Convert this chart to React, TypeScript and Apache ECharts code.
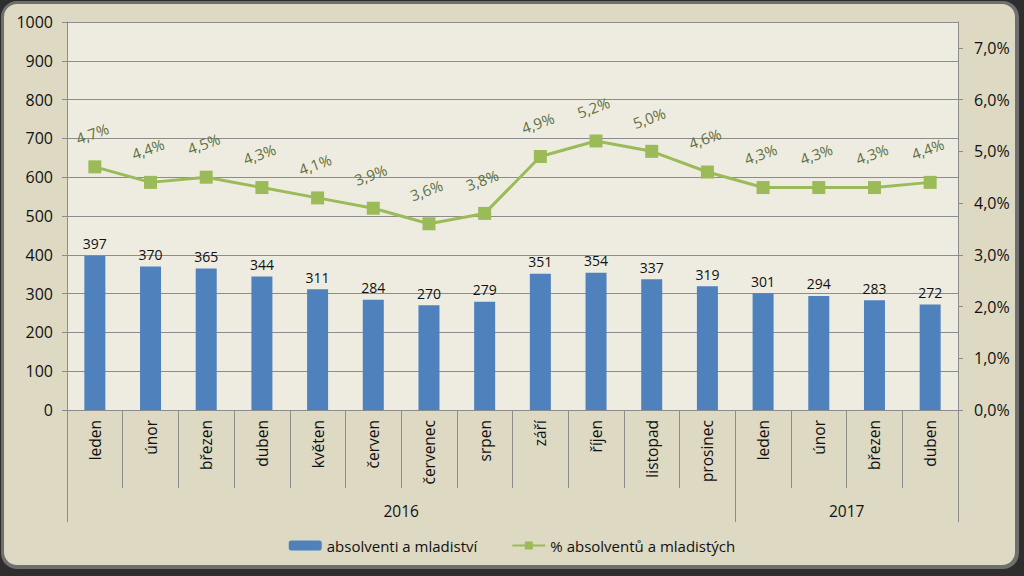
import React, { useEffect, useRef } from "react";
import * as echarts from "echarts";

const months = [
  "leden", "únor", "březen", "duben", "květen", "červen", "červenec", "srpen",
  "září", "říjen", "listopad", "prosinec", "leden", "únor", "březen", "duben",
];
const years = ["2016", "2017"];
const yearSpans = [12, 4];
const absolventi = [397, 370, 365, 344, 311, 284, 270, 279, 351, 354, 337, 319, 301, 294, 283, 272];
const podil = [4.7, 4.4, 4.5, 4.3, 4.1, 3.9, 3.6, 3.8, 4.9, 5.2, 5.0, 4.6, 4.3, 4.3, 4.3, 4.4];
const rightTicks = [0, 1, 2, 3, 4, 5, 6, 7];
const seriesNames = ["absolventi a mladiství", "% absolventů a mladistých"];

const FONT = "Open Sans";
const TXT = "#111111";
const fmtPct = (v: number) => v.toFixed(1).replace(".", ",") + "%";

export default function App() {
  const ref = useRef<HTMLDivElement>(null);
  useEffect(() => {
    if (!ref.current) return;
    const chart = echarts.init(ref.current, undefined, { renderer: "svg" });
    const bounds: number[] = [0];
    yearSpans.forEach((s, i) => bounds.push(bounds[i] + s));
    const centers = yearSpans.map((s, i) => bounds[i] + s / 2);
    chart.setOption({
      animation: false,
      textStyle: { fontFamily: FONT },
      grid: {
        left: 67,
        right: 66,
        top: 22,
        bottom: 166,
        show: true,
        backgroundColor: "#EEECE1",
        borderWidth: 0,
      },
      legend: {
        bottom: 18,
        left: "center",
        itemGap: 34,
        itemWidth: 33,
        itemHeight: 10,
        textStyle: { fontFamily: FONT, fontSize: 15, color: TXT },
        data: seriesNames,
      },
      xAxis: [
        {
          type: "category",
          data: months,
          position: "bottom",
          axisLine: { lineStyle: { color: "#8C8C8C", width: 1 } },
          axisTick: { show: true, interval: 0, length: 78, lineStyle: { color: "#8C8C8C" } },
          axisLabel: {
            interval: 0,
            rotate: 90,
            margin: 10,
            fontFamily: FONT,
            fontSize: 15.5,
            color: TXT,
          },
        },
        {
          type: "value",
          min: 0,
          max: bounds[bounds.length - 1],
          position: "bottom",
          axisLine: { show: false },
          splitLine: { show: false },
          axisTick: {
            show: true,
            customValues: bounds,
            length: 112,
            lineStyle: { color: "#8C8C8C" },
          },
          axisLabel: {
            customValues: centers,
            margin: 93,
            fontFamily: FONT,
            fontSize: 15.5,
            color: TXT,
            formatter: (v: number) => {
              const i = centers.findIndex((c) => Math.abs(c - v) < 1e-6);
              return i >= 0 ? years[i] : "";
            },
          },
        },
      ],
      yAxis: [
        {
          type: "value",
          min: 0,
          max: 1000,
          interval: 100,
          axisLine: { show: true, lineStyle: { color: "#8C8C8C" } },
          axisTick: { show: true, length: 5, lineStyle: { color: "#8C8C8C" } },
          splitLine: { show: true, lineStyle: { color: "#8C8C8C", width: 1 } },
          axisLabel: {
            margin: 14,
            fontFamily: FONT,
            fontSize: 16,
            color: TXT,
            formatter: (v: number) => String(v),
          },
        },
        {
          type: "value",
          min: 0,
          max: 7.5,
          interval: 1,
          position: "right",
          axisLine: { show: true, lineStyle: { color: "#8C8C8C" } },
          axisTick: { show: true, length: 5, customValues: rightTicks, lineStyle: { color: "#8C8C8C" } },
          splitLine: { show: false },
          axisLabel: {
            margin: 16,
            customValues: rightTicks,
            fontFamily: FONT,
            fontSize: 16,
            color: TXT,
            formatter: (v: number) => fmtPct(v),
          },
        },
      ],
      series: [
        {
          name: seriesNames[0],
          type: "bar",
          data: absolventi,
          xAxisIndex: 0,
          yAxisIndex: 0,
          barWidth: 21,
          itemStyle: { color: "#4F81BD" },
          label: {
            show: true,
            position: "top",
            distance: 5,
            fontFamily: FONT,
            fontSize: 14,
            color: TXT,
          },
        },
        {
          name: seriesNames[1],
          type: "line",
          data: podil,
          xAxisIndex: 0,
          yAxisIndex: 1,
          symbol: "rect",
          symbolSize: 13,
          lineStyle: { color: "#9BBB59", width: 3 },
          itemStyle: { color: "#9BBB59" },
          label: {
            show: true,
            position: "top",
            distance: 20,
            rotate: 20,
            fontFamily: FONT,
            fontSize: 15,
            color: "#5F7040",
            formatter: (p: any) => fmtPct(p.value),
          },
        },
      ],
    });
    return () => chart.dispose();
  }, []);

  return (
    <div style={{ position: "absolute", left: 0, top: 0, width: 1024, height: 576, background: "#2e2e2e", overflow: "hidden" }}>
      <div
        style={{
          position: "absolute",
          left: 1,
          top: 1,
          width: 1018,
          height: 568,
          borderRadius: 16,
          background: "#6f6f6f",
        }}
      />
      <div
        style={{
          position: "absolute",
          left: 4,
          top: 4,
          width: 1011,
          height: 561,
          borderRadius: 13,
          background: "#DDD9C3",
        }}
      />
      <div ref={ref} style={{ position: "absolute", left: 0, top: 0, width: 1024, height: 576 }} />
    </div>
  );
}
